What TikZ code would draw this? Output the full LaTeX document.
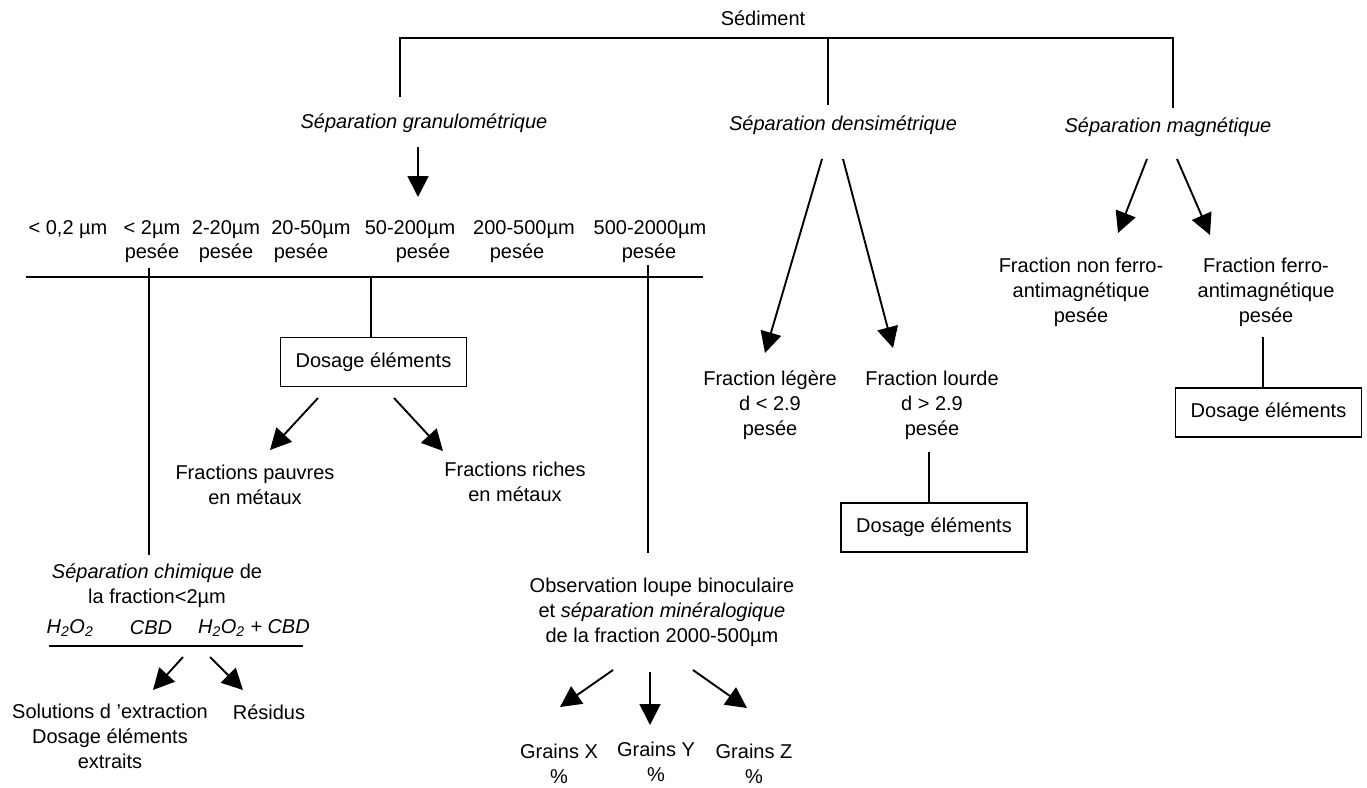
\documentclass[tikz,border=0pt]{standalone}
\usepackage{fontspec}
\setmainfont{Liberation Sans}
\usetikzlibrary{arrows.meta}
\begin{document}
\begin{tikzpicture}[x=1pt,y=-1pt,
  every node/.style={font=\fontsize{20}{25}\selectfont, inner sep=0pt, align=center},
  ln/.style={line width=1.9pt},
  arr/.style={line width=1.9pt, -{Triangle[length=21pt,width=21pt]}},
  box/.style={draw, line width=1.9pt, minimum width=186pt, minimum height=49pt}]
\useasboundingbox (0,0) rectangle (1367,787);
% top
\node (sed) at (763,18) {Sédiment};
\coordinate (bL) at (400,38);
\coordinate (bM) at (828,38);
\coordinate (bR) at (1173,38);
\coordinate (bLe) at (400,97);
\coordinate (bMe) at (828,105);
\coordinate (bRe) at (1173,108);
\draw[ln] (bLe) -- (bL) -- (bR) -- (bRe);
\draw[ln] (bM) -- (bMe);
\node (sg) at (424,123) {\textit{Séparation granulométrique}};
\node (sd) at (843,125) {\textit{Séparation densimétrique}};
\node (sm) at (1168,127) {\textit{Séparation magnétique}};
% granulometric
\coordinate (g1) at (418,147);
\coordinate (g2) at (418,197);
\draw[arr] (g1) -- (g2);
\node (f0) at (68,230) {< 0,2 µm};
\node (f1) at (152,230) {< 2µm};
\node (f2) at (226,230) {2-20µm};
\node (f3) at (311,230) {20-50µm};
\node (f4) at (410,230) {50-200µm};
\node (f5) at (524,230) {200-500µm};
\node (f6) at (650,230) {500-2000µm};
\node (p1) at (152,253) {pesée};
\node (p2) at (226,253) {pesée};
\node (p3) at (301,253) {pesée};
\node (p4) at (423,253) {pesée};
\node (p5) at (517,253) {pesée};
\node (p6) at (649,253) {pesée};
\coordinate (m0) at (26,277);
\coordinate (m1) at (703,277);
\draw[ln] (m0) -- (m1);
\coordinate (v1a) at (149,268);
\coordinate (v1b) at (149,555);
\draw[ln] (v1a) -- (v1b);
\coordinate (v3a) at (648,265);
\coordinate (v3b) at (648,553);
\draw[ln] (v3a) -- (v3b);
\node[box] (d1) at (373.5,362) {Dosage éléments};
\coordinate (v2a) at (371,277);
\draw[ln] (v2a) -- (v2a |- d1.north);
\coordinate (a1s) at (318,398);
\coordinate (a1e) at (270,450);
\coordinate (a2s) at (394,398);
\coordinate (a2e) at (443,451);
\draw[arr] (a1s) -- (a1e);
\draw[arr] (a2s) -- (a2e);
\node (fp) at (255,485) {Fractions pauvres\\en métaux};
\node (fr) at (515,482) {Fractions riches\\en métaux};
% chemical
\node (sc) at (157,586) {\textit{Séparation chimique} de\\la fraction<2µm};
\node (h1) at (70,628) {\textit{H\textsubscript{2}O\textsubscript{2}}};
\node (h2) at (151,628) {\textit{CBD}};
\node (h3) at (254,628) {\textit{H\textsubscript{2}O\textsubscript{2} + CBD}};
\coordinate (c0) at (49,646);
\coordinate (c1) at (303,646);
\draw[ln] (c0) -- (c1);
\coordinate (c2s) at (183,657);
\coordinate (c2e) at (153,690);
\coordinate (c3s) at (210,657);
\coordinate (c3e) at (243,690);
\draw[arr] (c2s) -- (c2e);
\draw[arr] (c3s) -- (c3e);
\node (sol) at (110,736) {Solutions d 'extraction\\Dosage éléments\\extraits};
\node (res) at (269,712) {Résidus};
% binocular
\node (obs) at (662,612) {Observation loupe binoculaire\\et \textit{séparation minéralogique}\\de la fraction 2000-500µm};
\coordinate (o1s) at (613,670);
\coordinate (o1e) at (560,707);
\coordinate (o2s) at (650,672);
\coordinate (o2e) at (650,725);
\coordinate (o3s) at (693,670);
\coordinate (o3e) at (747,708);
\draw[arr] (o1s) -- (o1e);
\draw[arr] (o2s) -- (o2e);
\draw[arr] (o3s) -- (o3e);
\node (gx) at (559,764) {Grains X\\\%};
\node (gy) at (656,762) {Grains Y\\\%};
\node (gz) at (754,764) {Grains Z\\\%};
% densimetric
\coordinate (ds1) at (822,159);
\coordinate (de1) at (765,353);
\coordinate (ds2) at (843,159);
\coordinate (de2) at (893,348);
\draw[arr] (ds1) -- (de1);
\draw[arr] (ds2) -- (de2);
\node (fl) at (770,405) {Fraction légère\\d < 2.9\\pesée};
\node (fh) at (932,405) {Fraction lourde\\d > 2.9\\pesée};
\node[box] (d2) at (934,527.5) {Dosage éléments};
\coordinate (dv) at (929,452);
\draw[ln] (dv) -- (dv |- d2.north);
% magnetic
\coordinate (ms1) at (1147,159);
\coordinate (me1) at (1118,233);
\coordinate (ms2) at (1177,159);
\coordinate (me2) at (1210,235);
\draw[arr] (ms1) -- (me1);
\draw[arr] (ms2) -- (me2);
\node (fn) at (1081,292) {Fraction non ferro-\\antimagnétique\\pesée};
\node (ff) at (1266,292) {Fraction ferro-\\antimagnétique\\pesée};
\node[box] (d3) at (1268.5,412.5) {Dosage éléments};
\coordinate (mv) at (1263,337);
\draw[ln] (mv) -- (mv |- d3.north);
\end{tikzpicture}
\end{document}
